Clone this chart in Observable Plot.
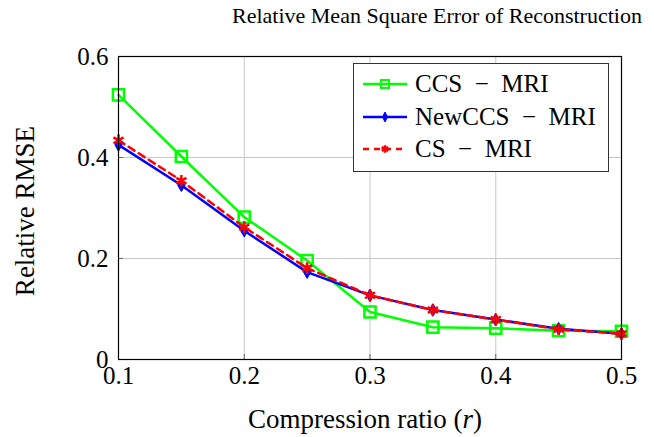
<!DOCTYPE html>
<html>
<head>
<meta charset="utf-8">
<script src="https://cdn.jsdelivr.net/npm/d3@7"></script>
<script src="https://cdn.jsdelivr.net/npm/@observablehq/plot@0.6"></script>
<style>
  html, body { margin: 0; padding: 0; background: white; }
  #wrap { position: relative; width: 654px; height: 437px; font-family: "Liberation Serif", "Times New Roman", serif; color: black; }
  #title { position: absolute; top: 3px; left: 232px; font-size: 22px; white-space: nowrap; }
  #xlabel { position: absolute; top: 404px; left: 248px; font-size: 27px; white-space: nowrap; }
  #ylabel { position: absolute; left: 25px; top: 211px; transform: translate(-50%, -50%) rotate(-90deg); font-size: 27px; line-height: 1; white-space: nowrap; }
  #legend { position: absolute; left: 353px; top: 63px; width: 256px; height: 109px; box-sizing: border-box; border: 1px solid #333; background: white; padding-top: 4px; }
  .row { display: flex; align-items: center; height: 32.5px; font-size: 25px; white-space: nowrap; }
  .row svg { margin-left: 8px; margin-right: 7px; flex: none; }
</style>
</head>
<body>
<div id="wrap">
  <div id="chart"></div>
  <div id="title">Relative Mean Square Error of Reconstruction</div>
  <div id="xlabel">Compression ratio (<i>r</i>)</div>
  <div id="ylabel">Relative RMSE</div>
  <div id="legend"></div>
</div>
<script>
const ratios = [0.1, 0.15, 0.2, 0.25, 0.3, 0.35, 0.4, 0.45, 0.5];
const ccsMri = [0.524, 0.402, 0.282, 0.196, 0.094, 0.064, 0.062, 0.057, 0.056];
const newCcsMri = [0.425, 0.345, 0.255, 0.173, 0.127, 0.098, 0.079, 0.061, 0.051];
const csMri = [0.434, 0.354, 0.262, 0.181, 0.127, 0.098, 0.079, 0.060, 0.051];
const seriesNames = ["CCS\u2002\u2212\u2002MRI", "NewCCS\u2002\u2212\u2002MRI", "CS\u2002\u2212\u2002MRI"];
const xTicks = [0.1, 0.2, 0.3, 0.4, 0.5];
const yTicks = [0, 0.2, 0.4, 0.6];
const xGrid = [0.2, 0.3, 0.4];
const yGrid = [0.2, 0.4];

const toRows = vals => ratios.map((r, i) => ({r, v: vals[i]}));
const ccs = toRows(ccsMri), newccs = toRows(newCcsMri), cs = toRows(csMri);

const chart = Plot.plot({
  width: 654,
  height: 437,
  marginTop: 56,
  marginLeft: 118,
  marginRight: 33,
  marginBottom: 78,
  x: {domain: [0.1, 0.5]},
  y: {domain: [0, 0.6]},
  style: {fontFamily: '"Liberation Serif", serif', fontSize: "25px", background: "white", color: "black"},
  marks: [
    Plot.gridX(xGrid, {stroke: "#c8c8c8", strokeOpacity: 1, strokeWidth: 1}),
    Plot.gridY(yGrid, {stroke: "#c8c8c8", strokeOpacity: 1, strokeWidth: 1}),
    Plot.axisX(xGrid, {tickSize: -5, tickFormat: () => "", label: null, stroke: "#666"}),
    Plot.axisY(yGrid, {tickSize: -5, tickFormat: () => "", label: null, stroke: "#666"}),
    Plot.axisX({ticks: xTicks, tickFormat: d => d.toFixed(1), tickSize: 0, tickPadding: 7, label: null, fontSize: 25}),
    Plot.axisY({ticks: yTicks, tickFormat: d => d === 0 ? "0" : d.toFixed(1), tickSize: 0, tickPadding: 10, label: null, fontSize: 25}),
    Plot.line(ccs, {x: "r", y: "v", stroke: "#00ff00", strokeWidth: 2.5}),
    Plot.dot(ccs, {x: "r", y: "v", symbol: "square", r: 6.3, stroke: "#00ff00", fill: "none", strokeWidth: 2.5}),
    Plot.line(newccs, {x: "r", y: "v", stroke: "#0000ff", strokeWidth: 2.5}),
    Plot.dot(newccs, {x: "r", y: "v", symbol: "diamond", r: 3.8, fill: "#0000ff", stroke: "#0000ff", strokeWidth: 1}),
    Plot.line(cs, {x: "r", y: "v", stroke: "#ff0000", strokeWidth: 2.5, strokeDasharray: "7,5"}),
    Plot.dot(cs, {x: "r", y: "v", symbol: "asterisk", r: 5.5, stroke: "#ff0000", strokeWidth: 2.5}),
    Plot.frame({stroke: "black", strokeWidth: 1.2})
  ]
});
document.getElementById("chart").appendChild(chart);

// Legend
const legendStyles = [
  {color: "#00ff00", dash: null, marker: "square"},
  {color: "#0000ff", dash: null, marker: "diamond"},
  {color: "#ff0000", dash: "6,5", marker: "asterisk"}
];
const legend = document.getElementById("legend");
seriesNames.forEach((name, i) => {
  const s = legendStyles[i];
  const row = document.createElement("div");
  row.className = "row";
  const svg = d3.create("svg").attr("width", 46).attr("height", 20);
  svg.append("line").attr("x1", 1).attr("x2", 45).attr("y1", 10).attr("y2", 10)
    .attr("stroke", s.color).attr("stroke-width", 2.5).attr("stroke-dasharray", s.dash);
  if (s.marker === "square") {
    svg.append("rect").attr("x", 19).attr("y", 6).attr("width", 8).attr("height", 8)
      .attr("fill", "none").attr("stroke", s.color).attr("stroke-width", 2);
  } else if (s.marker === "diamond") {
    svg.append("path").attr("d", "M23,5L25.5,10L23,15L20.5,10Z").attr("fill", s.color).attr("stroke", s.color);
  } else {
    svg.append("path").attr("d", d3.symbol(d3.symbolAsterisk, 40)()).attr("transform", "translate(23,10)")
      .attr("stroke", s.color).attr("stroke-width", 2.5).attr("fill", "none");
  }
  row.appendChild(svg.node());
  const span = document.createElement("span");
  span.textContent = name;
  row.appendChild(span);
  legend.appendChild(row);
});
</script>
</body>
</html>
